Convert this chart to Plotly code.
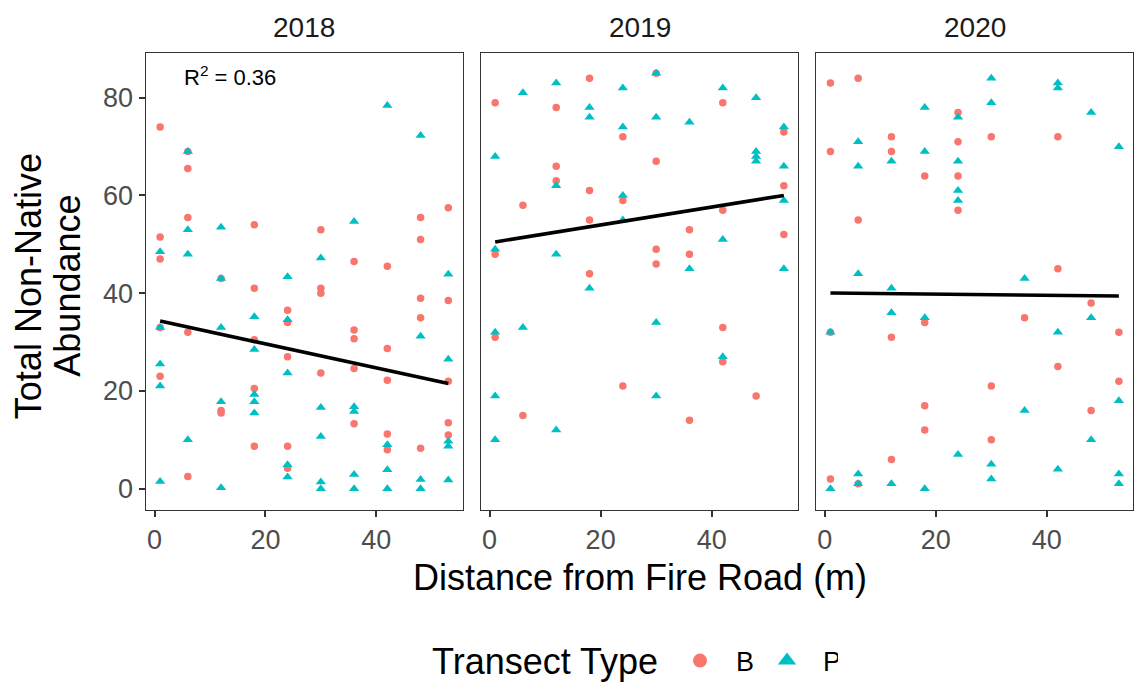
import numpy as np
import plotly.graph_objects as go

years = ["2018", "2019", "2020"]

# --- 2018 ---
b2018_x = [1]*5 + [6]*5 + [12]*3 + [18]*5 + [24]*5 + [30]*4 + [36]*5 + [42]*5 + [48]*5 + [53]*5
b2018_y = [74, 51.5, 47, 33, 23,
           69, 65.5, 55.5, 32, 2.5,
           43, 16, 15.5,
           54, 41, 30.5, 20.5, 8.7,
           36.5, 34, 27, 8.7, 4.2,
           53, 41, 40, 23.7,
           46.5, 32.5, 30.7, 24.6, 13.3,
           45.5, 28.7, 22.2, 11.2, 8,
           55.5, 51, 39, 35, 8.3,
           57.5, 38.5, 22, 13.5, 11]
p2018_x = [1]*5 + [6]*4 + [12]*5 + [18]*5 + [24]*5 + [30]*5 + [36]*5 + [42]*4 + [48]*4 + [53]*5
p2018_y = [48.5, 33, 25.5, 21, 1.5,
           69, 53, 48, 10,
           53.5, 43, 33, 17.8, 0.2,
           35.2, 28.5, 19.3, 17.8, 15.5,
           43.4, 34.6, 23.7, 4.9, 2.4,
           47.2, 16.6, 10.7, 1.4, 0,
           54.7, 16.8, 15.8, 2.9, 0,
           78.4, 9, 3.9, 0,
           72.3, 31.2, 1.9, 0,
           43.9, 26.5, 9.7, 8.7, 1.8]

# --- 2019 ---
b2019_x = [1]*3 + [6]*2 + [12]*3 + [18]*4 + [24]*3 + [30]*4 + [36]*3 + [42]*4 + [48]*1 + [53]*3
b2019_y = [79, 48, 31,
           58, 15,
           78, 66, 63,
           84, 61, 55, 44,
           72, 59, 21,
           85, 67, 49, 46,
           53, 48, 14,
           79, 57, 33, 26,
           19,
           73, 62, 52]
p2019_x = [1]*5 + [6]*2 + [12]*4 + [18]*3 + [24]*4 + [30]*4 + [36]*2 + [42]*3 + [48]*4 + [53]*4
p2019_y = [68, 49, 32, 19, 10,
           81, 33,
           83, 62, 48, 12,
           78, 76, 41,
           82, 74, 60, 55,
           85, 76, 34, 19,
           75, 45,
           82, 51, 27,
           80, 69, 68, 67,
           74, 66, 59, 45]

# --- 2020 ---
b2020_x = [1]*4 + [6]*3 + [12]*4 + [18]*4 + [24]*4 + [30]*3 + [36]*1 + [42]*3 + [48]*2 + [53]*2
b2020_y = [83, 69, 32, 2,
           84, 55, 1,
           72, 69, 31, 6,
           64, 34, 17, 12,
           77, 71, 64, 57,
           72, 21, 10,
           35,
           72, 45, 25,
           38, 16,
           32, 22]
p2020_x = [1]*2 + [6]*5 + [12]*4 + [18]*4 + [24]*5 + [30]*4 + [36]*2 + [42]*4 + [48]*3 + [53]*4
p2020_y = [32, 0,
           71, 66, 44, 3, 1,
           67, 41, 36, 1,
           78, 69, 35, 0,
           76, 67, 61, 59, 7,
           84, 79, 5, 2,
           43, 16,
           83, 82, 32, 4,
           77, 35, 10,
           70, 18, 3, 1]

# fitted model lines per year (intercept, slope vs. distance)
fit_intercept = [34.55, 50.32, 40.05]
fit_slope = [-0.246, 0.183, -0.0117]

b_x = [b2018_x, b2019_x, b2020_x]
b_y = [b2018_y, b2019_y, b2020_y]
p_x = [p2018_x, p2019_x, p2020_x]
p_y = [p2018_y, p2019_y, p2020_y]

r2_label = "R<sup>2</sup> = 0.36"
legend_title = "Transect Type"

COL_B = "#F8766D"
COL_P = "#00BFC4"
FONT = "Liberation Sans, Arial, sans-serif"

W, H = 1135, 686
# panel boxes in pixels (left, right); shared top / bottom
panels_px = [(145.7, 462.7), (480.7, 798.3), (816.0, 1133.3)]
top_px, bot_px = 52.7, 511.0
legend_y_px = 663

fig = go.Figure()

for i in range(3):
    ax = "" if i == 0 else str(i + 1)
    xa, ya = "x" + ax, "y" + ax
    fig.add_trace(go.Scatter(
        x=b_x[i], y=b_y[i], mode="markers", xaxis=xa, yaxis=ya,
        marker=dict(symbol="circle", size=7.5, color=COL_B, line=dict(width=0)),
        name="B", legendgroup="B", showlegend=False))
    fig.add_trace(go.Scatter(
        x=p_x[i], y=p_y[i], mode="markers", xaxis=xa, yaxis=ya,
        marker=dict(symbol="triangle-up", size=9, color=COL_P, line=dict(width=0)),
        name="P", legendgroup="P", showlegend=False))
    xs = np.array(b_x[i] + p_x[i], dtype=float)
    lx = np.array([xs.min(), xs.max()])
    fig.add_trace(go.Scatter(
        x=lx, y=fit_intercept[i] + fit_slope[i] * lx, mode="lines", xaxis=xa, yaxis=ya,
        line=dict(color="black", width=3.6), showlegend=False, hoverinfo="skip"))

# legend keys (drawn larger than the data markers)
fig.add_trace(go.Scatter(x=[None], y=[None], mode="markers", name="B", legendgroup="B",
                         marker=dict(symbol="circle", size=14, color=COL_B, line=dict(width=0))))
fig.add_trace(go.Scatter(x=[None], y=[None], mode="markers", name="P", legendgroup="P",
                         marker=dict(symbol="triangle-up", size=16, color=COL_P, line=dict(width=0))))

axis_common = dict(
    showgrid=False, zeroline=False, showline=True, linecolor="#333333", linewidth=1.3,
    mirror=True, ticks="outside", ticklen=6, tickwidth=1.8, tickcolor="#333333",
    tickfont=dict(family=FONT, size=27, color="#4D4D4D"),
)

layout = dict(
    width=W, height=H, autosize=False,
    margin=dict(l=0, r=0, t=0, b=0),
    paper_bgcolor="white", plot_bgcolor="white",
    font=dict(family=FONT, color="black"),
    showlegend=True,
    legend=dict(
        orientation="h", x=664 / W, xanchor="left", y=1 - legend_y_px / H, yanchor="middle",
        font=dict(size=27, family=FONT, color="black"),
        itemwidth=62, entrywidth=10, tracegroupgap=0,
    ),
)

ydom = [1 - bot_px / H, 1 - top_px / H]
annotations = []
for i, (l, r) in enumerate(panels_px):
    ax = "" if i == 0 else str(i + 1)
    layout["xaxis" + ax] = dict(
        axis_common, domain=[l / W, r / W], range=[-1.6, 55.6],
        tickvals=[0, 20, 40], anchor="y" + ax)
    layout["yaxis" + ax] = dict(
        axis_common, domain=ydom, range=[-4.25, 89.25],
        tickvals=[0, 20, 40, 60, 80], showticklabels=(i == 0),
        ticks="outside" if i == 0 else "", anchor="x" + ax)
    # facet strip label
    annotations.append(dict(
        text=years[i], x=(l + r) / 2 / W, y=1 - 28 / H, xref="paper", yref="paper",
        showarrow=False, xanchor="center", yanchor="middle",
        font=dict(family=FONT, size=28, color="#1A1A1A")))

annotations += [
    dict(text=r2_label, x=230 / W, y=1 - 76 / H, xref="paper", yref="paper",
         xanchor="center", yanchor="middle", showarrow=False,
         font=dict(family=FONT, size=22, color="black")),
    dict(text="Distance from Fire Road (m)", x=(panels_px[0][0] + panels_px[2][1]) / 2 / W,
         y=1 - 579 / H, xref="paper", yref="paper", showarrow=False,
         xanchor="center", yanchor="middle",
         font=dict(family=FONT, size=36, color="black")),
    dict(text="Total Non-Native", x=28 / W, y=1 - 287 / H,
         xref="paper", yref="paper", showarrow=False, textangle=-90,
         xanchor="center", yanchor="middle",
         font=dict(family=FONT, size=36, color="black")),
    dict(text="Abundance", x=67.5 / W, y=1 - 287 / H,
         xref="paper", yref="paper", showarrow=False, textangle=-90,
         xanchor="center", yanchor="middle",
         font=dict(family=FONT, size=36, color="black")),
    dict(text=legend_title, x=430 / W, y=1 - legend_y_px / H,
         xref="paper", yref="paper", showarrow=False,
         xanchor="left", yanchor="middle",
         font=dict(family=FONT, size=36, color="black")),
]
layout["annotations"] = annotations

fig.update_layout(**layout)
fig.write_html("out.html")
